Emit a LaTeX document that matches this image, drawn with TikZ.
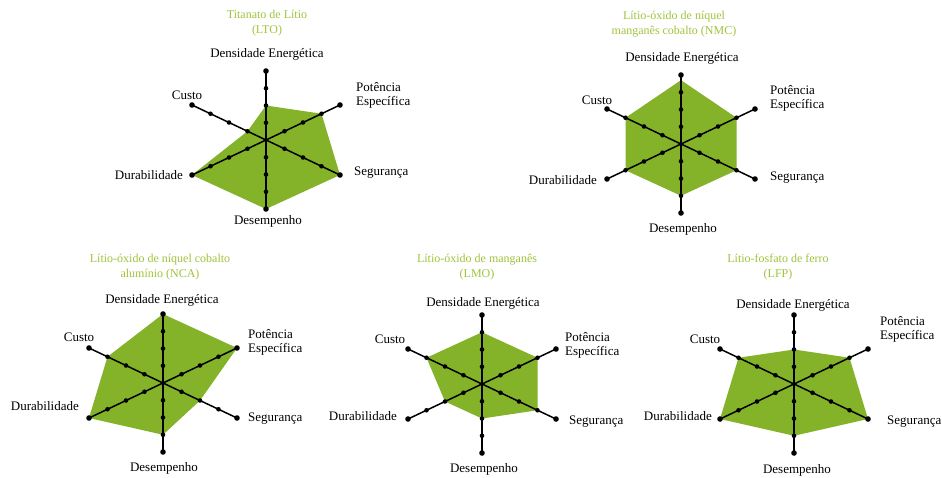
\documentclass[tikz,border=0pt]{standalone}
\usepackage{fontspec}
\setmainfont{Liberation Serif}
\usetikzlibrary{calc}

\definecolor{radarfill}{RGB}{132,178,40}
\definecolor{titlegreen}{RGB}{160,196,60}

\tikzset{
  axisline/.style={line width=1.5pt, black},
  axislabel/.style={font=\fontsize{13}{14}\selectfont, inner sep=0pt, align=left},
  charttitle/.style={font=\fontsize{12}{15}\selectfont, text=titlegreen, align=center, inner sep=0pt},
  area/.style={fill=radarfill},
}

% Six-axis radar chart: #1 name, #2 centre, #3..#8 scores (0-4) for
% Densidade, Potencia, Seguranca, Desempenho, Durabilidade, Custo
\newcommand{\radarchart}[8]{%
  \coordinate (#1) at #2;
  \coordinate (#1-1) at ($(#1)+4*(0,-17.25)$);
  \coordinate (#1-2) at ($(#1)+4*(18.5,-8.75)$);
  \coordinate (#1-3) at ($(#1)+4*(18.5,8.75)$);
  \coordinate (#1-4) at ($(#1)+4*(0,17.25)$);
  \coordinate (#1-5) at ($(#1)+4*(-18.5,8.75)$);
  \coordinate (#1-6) at ($(#1)+4*(-18.5,-8.75)$);
  \fill[area] ($(#1)!#3/4!(#1-1)$) -- ($(#1)!#4/4!(#1-2)$) -- ($(#1)!#5/4!(#1-3)$)
    -- ($(#1)!#6/4!(#1-4)$) -- ($(#1)!#7/4!(#1-5)$) -- ($(#1)!#8/4!(#1-6)$) -- cycle;
  \foreach \i in {1,...,6}{%
    \draw[axisline] (#1) -- (#1-\i);
    \foreach \t in {0.25,0.5,0.75}{\fill ($(#1)!\t!(#1-\i)$) circle (2.3);}
    \fill (#1-\i) circle (2.8);
  }%
}

\begin{document}
\begin{tikzpicture}[x=1pt, y=-1pt]
  \useasboundingbox (0,0) rectangle (942,477);
  \fill[white] (0,0) rectangle (942,477);

  % Titanato de Litio
  \radarchart{lto}{(266,140)}{2}{3}{4}{4}{4}{1}
  \node[charttitle] (lto-title) at (267,23.5) {Titanato de Lítio\\(LTO)};
  \node[axislabel] (lto-den) at (267,54) {Densidade Energética};
  \node[axislabel, anchor=west] (lto-pot) at (356,95) {Potência\\Específica};
  \node[axislabel] (lto-cus) at (187,95) {Custo};
  \node[axislabel, anchor=west] (lto-seg) at (354,173) {Segurança};
  \node[axislabel, anchor=east] (lto-dur) at (183,175) {Durabilidade};
  \node[axislabel] (lto-des) at (268,221) {Desempenho};

  % NMC
  \radarchart{nmc}{(681,144)}{3.7}{3}{3}{3}{3}{3}
  \node[charttitle] (nmc-title) at (674,24) {Lítio-óxido de níquel\\manganês cobalto (NMC)};
  \node[axislabel] (nmc-den) at (682,58) {Densidade Energética};
  \node[axislabel, anchor=west] (nmc-pot) at (770,98) {Potência\\Específica};
  \node[axislabel] (nmc-cus) at (597,100) {Custo};
  \node[axislabel, anchor=west] (nmc-seg) at (770,178) {Segurança};
  \node[axislabel, anchor=east] (nmc-dur) at (597,180) {Durabilidade};
  \node[axislabel] (nmc-des) at (683,229) {Desempenho};

  % NCA
  \radarchart{nca}{(163,383)}{4}{4}{2}{3}{4}{3}
  \node[charttitle] (nca-title) at (160,267.5) {Lítio-óxido de níquel cobalto\\alumínio (NCA)};
  \node[axislabel] (nca-den) at (162,300) {Densidade Energética};
  \node[axislabel, anchor=west] (nca-pot) at (248,342) {Potência\\Específica};
  \node[axislabel] (nca-cus) at (79,337) {Custo};
  \node[axislabel, anchor=west] (nca-seg) at (248,419) {Segurança};
  \node[axislabel, anchor=east] (nca-dur) at (79,406) {Durabilidade};
  \node[axislabel] (nca-des) at (164,468) {Desempenho};

  % LMO
  \radarchart{lmo}{(482,384)}{3}{3}{3}{2}{2}{3}
  \node[charttitle] (lmo-title) at (477,267.5) {Lítio-óxido de manganês\\(LMO)};
  \node[axislabel] (lmo-den) at (483,303) {Densidade Energética};
  \node[axislabel, anchor=west] (lmo-pot) at (565,345) {Potência\\Específica};
  \node[axislabel] (lmo-cus) at (390,339) {Custo};
  \node[axislabel, anchor=west] (lmo-seg) at (569,422) {Segurança};
  \node[axislabel, anchor=east] (lmo-dur) at (397,416) {Durabilidade};
  \node[axislabel] (lmo-des) at (484,469) {Desempenho};

  % LFP
  \radarchart{lfp}{(794,384)}{2}{3}{4}{3}{4}{3}
  \node[charttitle] (lfp-title) at (778,267) {Lítio-fosfato de ferro\\(LFP)};
  \node[axislabel] (lfp-den) at (793,305) {Densidade Energética};
  \node[axislabel, anchor=west] (lfp-pot) at (880,329) {Potência\\Específica};
  \node[axislabel] (lfp-cus) at (705,339) {Custo};
  \node[axislabel, anchor=west] (lfp-seg) at (887,422) {Segurança};
  \node[axislabel, anchor=east] (lfp-dur) at (712,416) {Durabilidade};
  \node[axislabel] (lfp-des) at (797,470) {Desempenho};
\end{tikzpicture}
\end{document}
